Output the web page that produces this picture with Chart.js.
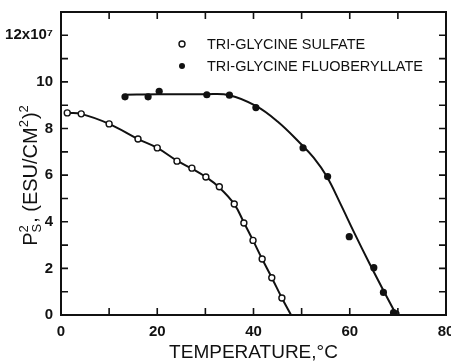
<!DOCTYPE html>
<html>
<head>
<meta charset="utf-8">
<script src="https://cdn.jsdelivr.net/npm/chart.js@4"></script>
<style>
html, body { margin: 0; padding: 0; background: #fff; overflow: hidden; }
#wrap { position: relative; width: 470px; height: 362px; }
</style>
</head>
<body>
<div id="wrap"><canvas id="chart"></canvas></div>
<script>
/* ==========================================
DATA
========================================== */

// tri-glycine sulfate, measured points
const tgsTemp = [1.3, 4.2, 10.0, 16.0, 20.0, 24.1, 27.2, 30.1, 32.9, 36.0, 38.0, 39.9, 41.8, 43.8, 45.9];
const tgsPs2 = [8.67, 8.63, 8.2, 7.55, 7.17, 6.6, 6.3, 5.92, 5.5, 4.76, 3.95, 3.2, 2.4, 1.6, 0.73];

// tri-glycine sulfate, drawn curve
const tgsCurveTemp = [1.3, 4.2, 10.0, 16.0, 20.0, 24.1, 27.2, 30.1, 32.9, 36.0, 38.0, 39.9, 41.8, 43.8, 45.9, 47.8];
const tgsCurvePs2 = [8.67, 8.63, 8.2, 7.55, 7.17, 6.62, 6.28, 5.92, 5.47, 4.76, 3.97, 3.2, 2.4, 1.6, 0.73, 0];

// tri-glycine fluoberyllate, measured points
const tgfbTemp = [13.3, 18.1, 20.4, 30.3, 35.0, 40.5, 50.3, 55.4, 59.9, 65.0, 67.0, 69.1];
const tgfbPs2 = [9.36, 9.36, 9.6, 9.45, 9.43, 8.9, 7.17, 5.94, 3.36, 2.03, 0.97, 0.1];

// tri-glycine fluoberyllate, drawn curve
const tgfbCurveTemp = [13.3, 20, 30, 35, 40.5, 45, 49.7, 52.5, 55.2, 58, 61, 64, 67, 69.7];
const tgfbCurvePs2 = [9.45, 9.47, 9.47, 9.43, 8.97, 8.3, 7.37, 6.75, 5.95, 4.8, 3.5, 2.25, 1.05, 0];

// open marker at the fluoberyllate transition
const tcTemp = [69.6];
const tcPs2 = [0.04];

const legendLabels = ["TRI-GLYCINE SULFATE", "TRI-GLYCINE FLUOBERYLLATE"];
const xTitle = "TEMPERATURE,\u00b0C";
const topTickLabel = "12x10\u2077";

const INK = "#111";

function pairs(xs, ys){
return xs.map((v, i) => ({x: v, y: ys[i]}));
}


/* ==========================================
FRAME, INWARD TICKS, LEGEND, Y TITLE
========================================== */

const frame = {

id: "frame",

afterDatasetsDraw(chart){

const {ctx, chartArea: a, scales: {x, y}} = chart;

ctx.save();
ctx.strokeStyle = INK;
ctx.lineWidth = 2;
ctx.strokeRect(a.left, a.top, a.right - a.left, a.bottom - a.top);

ctx.lineWidth = 1.6;
ctx.beginPath();
x.ticks.forEach(t => {
const px = x.getPixelForValue(t.value);
ctx.moveTo(px, a.bottom); ctx.lineTo(px, a.bottom - 7);
ctx.moveTo(px, a.top); ctx.lineTo(px, a.top + 7);
});
y.ticks.forEach(t => {
const py = y.getPixelForValue(t.value);
ctx.moveTo(a.left, py); ctx.lineTo(a.left + 7, py);
ctx.moveTo(a.right, py); ctx.lineTo(a.right - 7, py);
});
ctx.stroke();

// legend
ctx.font = "14.5px 'Liberation Sans'";
ctx.fillStyle = INK;
ctx.textBaseline = "middle";
legendLabels.forEach((label, i) => {
const my = a.top + 32 + i * 22;
const mx = a.left + 121;
ctx.beginPath();
ctx.arc(mx, my, 3, 0, Math.PI * 2);
if(i === 0){
ctx.fillStyle = "#fff";
ctx.fill();
ctx.lineWidth = 1.4;
ctx.stroke();
}else{
ctx.fillStyle = INK;
ctx.fill();
}
ctx.fillStyle = INK;
ctx.fillText(label, a.left + 146, my + 1);
});

// y axis title with super/subscripts
const big = "20px 'Liberation Sans'";
const small = "13px 'Liberation Sans'";
const parts = [
{t: "P", f: big, dy: 0},
{t: "2", f: small, dy: -9, stackWith: "S", dy2: 4},
{t: ", (ESU/CM", f: big, dy: 0},
{t: "2", f: small, dy: -9},
{t: ")", f: big, dy: 0},
{t: "2", f: small, dy: -9}
];
let total = 0;
parts.forEach(p => {
ctx.font = p.f;
p.w = ctx.measureText(p.t).width;
if(p.stackWith){
p.w = Math.max(p.w, ctx.measureText(p.stackWith).width);
}
total += p.w + (p.f === small ? 1 : 0);
});
ctx.translate(31, 175);
ctx.rotate(-Math.PI / 2);
ctx.textBaseline = "alphabetic";
ctx.textAlign = "left";
let cx = -total / 2;
parts.forEach(p => {
ctx.font = p.f;
ctx.fillText(p.t, cx, 6 + p.dy);
if(p.stackWith){
ctx.fillText(p.stackWith, cx, 6 + p.dy2);
}
cx += p.w + (p.f === small ? 1 : 0);
});

ctx.restore();

}

};


/* ==========================================
CHART
========================================== */

new Chart(
document.getElementById("chart"),
{

type: "scatter",

data: {

datasets: [

{
label: legendLabels[0],
data: pairs(tgsTemp, tgsPs2),
pointStyle: "circle",
pointRadius: 3,
pointBackgroundColor: "#fff",
pointBorderColor: INK,
pointBorderWidth: 1.4,
order: 1
},

{
label: legendLabels[1],
data: pairs(tgfbTemp, tgfbPs2),
pointStyle: "circle",
pointRadius: 3.6,
pointBackgroundColor: INK,
pointBorderColor: INK,
pointBorderWidth: 0,
order: 1
},

{
label: "Tc",
data: pairs(tcTemp, tcPs2),
pointStyle: "circle",
pointRadius: 3,
pointBackgroundColor: "#fff",
pointBorderColor: INK,
pointBorderWidth: 1.4,
order: 1
},

{
label: "fit sulfate",
data: pairs(tgsCurveTemp, tgsCurvePs2),
showLine: true,
pointRadius: 0,
borderColor: INK,
borderWidth: 2,
tension: 0.4,
order: 2
},

{
label: "fit fluoberyllate",
data: pairs(tgfbCurveTemp, tgfbCurvePs2),
showLine: true,
pointRadius: 0,
borderColor: INK,
borderWidth: 2,
tension: 0.4,
order: 2
}

]
},

options: {

responsive: true,
maintainAspectRatio: false,
animation: false,
events: [],

layout: {
padding: {left: 0, top: 12, right: 24, bottom: 0}
},

plugins: {
legend: { display: false },
tooltip: { enabled: false }
},

scales: {

x: {
type: "linear",
min: 0,
max: 80,
grid: { display: false, drawTicks: false },
border: { display: false },
ticks: {
stepSize: 10,
padding: 8,
color: INK,
maxRotation: 0,
autoSkip: false,
font: { family: "'Liberation Sans'", size: 15, weight: "bold" },
callback: v => (v % 20 === 0 ? String(v) : "")
},
title: {
display: true,
text: xTitle,
color: INK,
padding: 0,
font: { family: "'Liberation Sans'", size: 19, lineHeight: 1 }
},
afterFit: s => { s.height = 47; s.paddingLeft = 0; s.paddingRight = 0; }
},

y: {
type: "linear",
min: 0,
max: 13,
grid: { display: false, drawTicks: false },
border: { display: false },
ticks: {
stepSize: 1,
padding: 8,
color: INK,
autoSkip: false,
font: { family: "'Liberation Sans'", size: 15, weight: "bold" },
callback: v => (v === 12 ? topTickLabel : (v % 2 === 0 ? String(v) : ""))
},
afterFit: s => { s.width = 61; s.paddingTop = 0; s.paddingBottom = 0; }
}

}

},

plugins: [frame]

}
);
</script>
</body>
</html>
